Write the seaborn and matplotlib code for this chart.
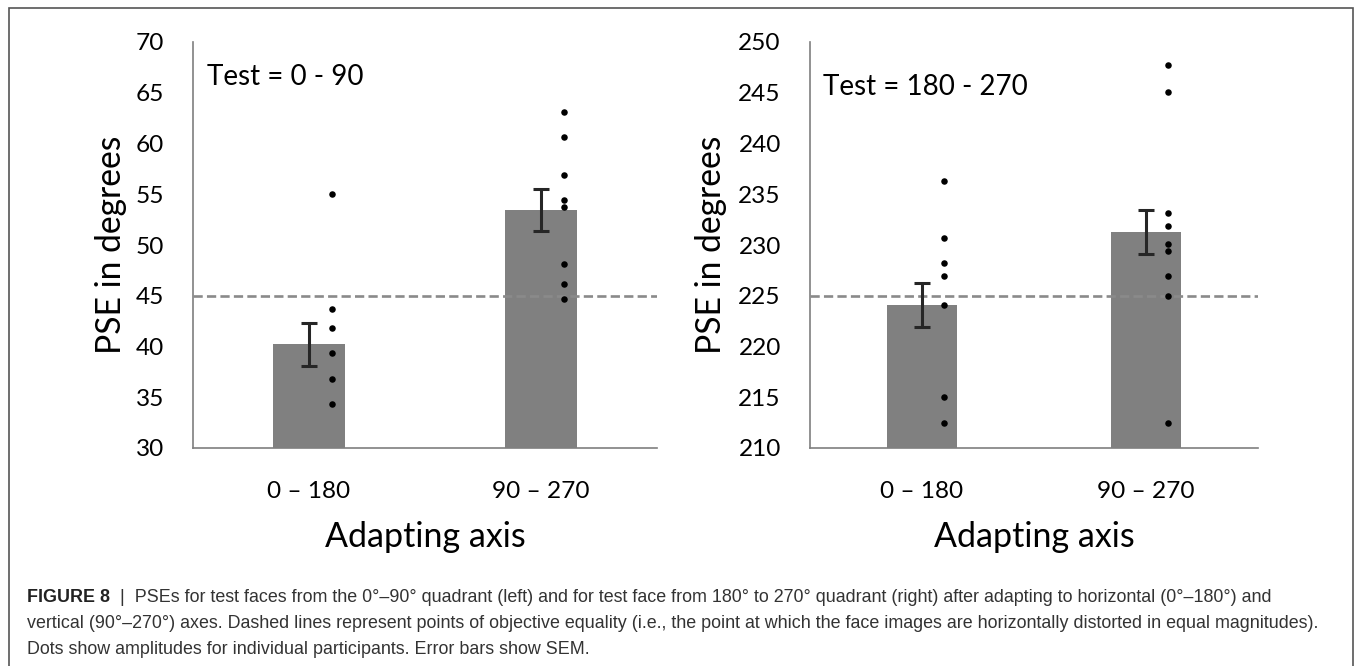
import matplotlib
matplotlib.use("Agg")
import matplotlib.pyplot as plt
from matplotlib import font_manager
from matplotlib.patches import Rectangle
import numpy as np
import pandas as pd
import seaborn as sns

# ---- data ----
categories = ["0 – 180", "90 – 270"]

left_means = [40.2, 53.45]
left_sem = [2.1, 2.1]
left_dots_a = [55.0, 43.7, 41.8, 39.4, 36.8, 34.3]
left_dots_b = [63.1, 60.6, 56.9, 54.4, 53.7, 48.1, 46.2, 44.7]

right_means = [224.1, 231.3]
right_sem = [2.15, 2.15]
right_dots_a = [236.3, 230.7, 228.2, 226.9, 224.1, 215.0, 212.5]
right_dots_b = [247.7, 245.1, 233.2, 231.9, 230.1, 229.4, 226.9, 225.0, 212.5]

left_ticks = list(range(30, 71, 5))
right_ticks = list(range(210, 251, 5))
left_poe = 45
right_poe = 225

caption_bold = "FIGURE 8"
caption_lines = [
    "  |  PSEs for test faces from the 0°–90° quadrant (left) and for test face from 180° to 270° "
    "quadrant (right) after adapting to horizontal (0°–180°) and",
    "vertical (90°–270°) axes. Dashed lines represent points of objective equality (i.e., the point "
    "at which the face images are horizontally distorted in equal magnitudes).",
    "Dots show amplitudes for individual participants. Error bars show SEM.",
]

sns.set_theme(style="white")
plt.rcParams["font.family"] = ["Lato", "DejaVu Sans"]

BAR = "#808080"
W, H = 1355, 666
fig = plt.figure(figsize=(W / 100, H / 100), dpi=100)


def panel(rect, means, sem, dots_a, dots_b, ticks, poe, note, note_y):
    ax = fig.add_axes(rect)
    df = pd.DataFrame({"axis": categories, "pse": means})
    sns.barplot(data=df, x="axis", y="pse", ax=ax, color=BAR, saturation=1,
                width=0.31, errorbar=None, linewidth=0)
    ax.errorbar([0, 1], means, yerr=sem, fmt="none", ecolor="#262626",
                elinewidth=2.2, capsize=5.5, capthick=2.2, zorder=4)
    pts = pd.DataFrame({
        "x": [0.1] * len(dots_a) + [1.1] * len(dots_b),
        "y": dots_a + dots_b,
    })
    sns.scatterplot(data=pts, x="x", y="y", ax=ax, color="black", s=22,
                    linewidth=0, zorder=5)
    ax.axhline(poe, color="#8a8a8a", lw=1.9, ls=(0, (3.5, 1.6)), zorder=3)
    ax.set_xlim(-0.5, 1.5)
    ax.set_ylim(ticks[0], ticks[-1])
    ax.set_yticks(ticks)
    ax.set_xticks([0, 1])
    ax.set_xticklabels(categories)
    ax.tick_params(axis="both", length=0, labelsize=17.6, colors="black")
    ax.tick_params(axis="y", pad=21)
    ax.tick_params(axis="x", pad=24)
    for side in ["top", "right"]:
        ax.spines[side].set_visible(False)
    for side in ["left", "bottom"]:
        ax.spines[side].set_color("#7f7f7f")
        ax.spines[side].set_linewidth(1.2)
    ax.set_xlabel("Adapting axis", fontsize=24.5, color="black")
    ax.set_ylabel("PSE in degrees", fontsize=24.2, color="black")
    ax.text(0.03, note_y, note, transform=ax.transAxes, fontsize=20,
            va="center", ha="left", color="black")
    ax.grid(False)
    return ax


ax1 = panel([193 / W, 1 - 448 / H, 464 / W, 406 / H], left_means, left_sem,
            left_dots_a, left_dots_b, left_ticks, left_poe, "Test = 0 - 90",
            (448 - 77) / 406)
ax2 = panel([810 / W, 1 - 448 / H, 448 / W, 406 / H], right_means, right_sem,
            right_dots_a, right_dots_b, right_ticks, right_poe, "Test = 180 - 270",
            (448 - 87) / 406)
ax1.yaxis.set_label_coords((111 - 193) / 464, 0.5)
ax2.yaxis.set_label_coords((711 - 810) / 448, 0.5)
for a in (ax1, ax2):
    a.yaxis.label.set_va("center")
    a.xaxis.set_label_coords(0.5, (448 - 537) / 406)
    a.xaxis.label.set_va("center")

# ---- caption ----
names = {f.name for f in font_manager.fontManager.ttflist}
cap_font = "Liberation Sans Narrow" if "Liberation Sans Narrow" in names else "Liberation Sans"
cap = fig.add_axes([0, 0, 1, 1])
cap.axis("off")
cap.set_xlim(0, W)
cap.set_ylim(H, 0)

cap_size = 12.9
ys = [597, 624, 650]
bold = cap.text(27, ys[0], caption_bold, fontsize=cap_size, fontweight="bold",
                family=cap_font, color="#222222", va="center", ha="left")
cap.annotate(caption_lines[0], xy=(1, 0), xycoords=bold, va="bottom", ha="left",
             fontsize=cap_size, family=cap_font, color="#333333")
for line, y in zip(caption_lines[1:], ys[1:]):
    cap.text(27, y, line, fontsize=cap_size, family=cap_font, color="#333333",
             va="center", ha="left")

fig.add_artist(Rectangle((9 / W, -0.05), 1344 / W, 1 - 8 / H + 0.05,
                         transform=fig.transFigure, fill=False,
                         edgecolor="#555555", lw=1.2))

fig.savefig("out.png", dpi=100)
